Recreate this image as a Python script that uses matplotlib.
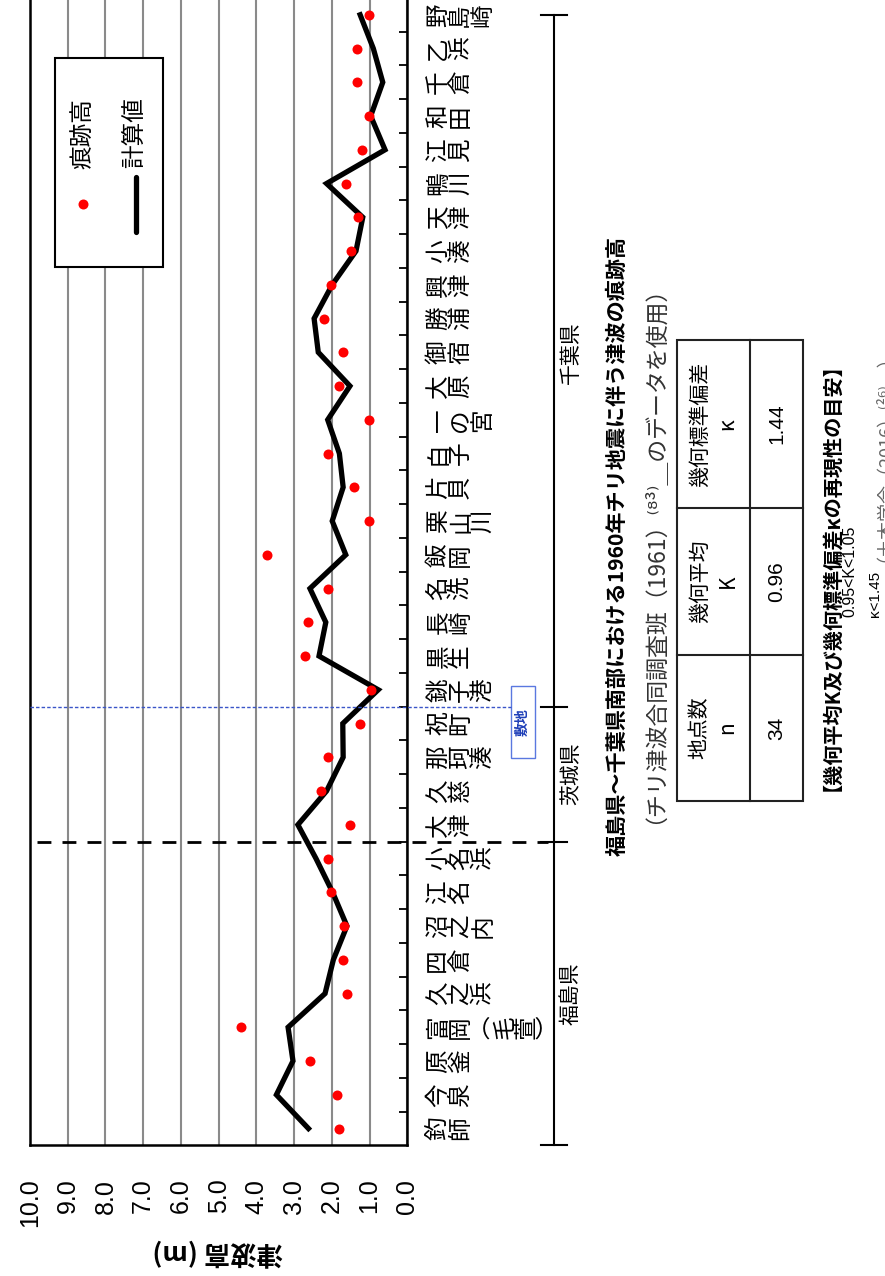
import numpy as np
import matplotlib
matplotlib.use("Agg")
import matplotlib.pyplot as plt
from matplotlib import transforms
from matplotlib.patches import Rectangle
from matplotlib.lines import Line2D

CJK = ['Noto Sans CJK JP', 'DejaVu Sans']
NUM = ['Liberation Sans', 'Noto Sans CJK JP', 'DejaVu Sans']
plt.rcParams['font.family'] = CJK

# Survey points, south-bound along the coast
stations = ["釣師", "今泉", "原釜", "富岡︵毛萱︶", "久之浜", "四倉", "沼之内", "江名", "小名浜",
            "大津", "久慈", "那珂湊", "祝町",
            "銚子港", "黒生", "長崎", "名洗", "飯岡", "栗山川", "片貝", "白子", "一の宮",
            "大原", "御宿", "勝浦", "興津", "小湊", "天津", "鴨川", "江見", "和田", "千倉",
            "乙浜", "野島崎"]
# Observed trace heights (m)
trace_height = [1.80, 1.85, 2.57, 4.41, 1.60, 1.71, 1.69, 2.02, 2.10,
                1.52, 2.30, 2.11, 1.25,
                0.96, 2.71, 2.62, 2.11, 3.71, 1.01, 1.42, 2.11, 1.01,
                1.80, 1.71, 2.22, 2.01, 1.50, 1.30, 1.63, 1.21, 1.01, 1.32,
                1.32, 1.01]
# Simulated tsunami heights (m)
calc_height = [2.62, 3.47, 3.03, 3.16, 2.18, 1.96, 1.60, 1.98, 2.42,
               2.90, 2.14, 1.70, 1.71,
               0.77, 2.34, 2.16, 2.58, 1.63, 1.99, 1.70, 1.80, 2.11,
               1.52, 2.36, 2.47, 1.99, 1.36, 1.18, 2.14, 0.59, 0.97, 0.65,
               0.90, 1.25]
prefectures = ["福島県", "茨城県", "千葉県"]
pref_counts = [9, 4, 21]
height_ticks = np.arange(0, 11)
table_headers = ["地点数\nn", "幾何平均\nK", "幾何標準偏差\nκ"]
table_values = ["34", "0.96", "1.44"]

W, H = 885, 1276
fig = plt.figure(figsize=(W / 100, H / 100), dpi=100)

# main plot: height runs right-to-left, stations bottom-to-top
ax_l, ax_r, ax_b, ax_t = 30, 407.3, 1145.4, -2.1
ax = fig.add_axes([ax_l / W, 1 - ax_b / H, (ax_r - ax_l) / W, (ax_b - ax_t) / H])
n = len(stations)
pos = np.arange(n) + 0.5
ax.set_xlim(10, 0)
ax.set_ylim(0, n)
ax.set_xticks(height_ticks)
ax.set_xticklabels([f"{v:.1f}" for v in height_ticks], rotation=90,
                   fontsize=18, family=NUM)
ax.tick_params(axis='x', length=0, pad=24)
ax.grid(axis='x', color='#8a8a8a', lw=1.5)
ax.yaxis.tick_right()
ax.set_yticks(np.arange(1, n))
ax.set_yticklabels([])
ax.tick_params(axis='y', direction='in', length=6, width=1.3, colors='black')
for s in ax.spines.values():
    s.set_linewidth(1.8)
    s.set_color('black')

ax.plot(calc_height, pos, color='black', lw=3.8, solid_joinstyle='miter', zorder=3)
ax.plot(trace_height, pos, 'o', color='#ff0000', ms=7.2, mec='none', zorder=4)

# overlay in pixel coordinates for annotations
ov = fig.add_axes([0, 0, 1, 1], facecolor='none')
ov.set_xlim(0, W)
ov.set_ylim(H, 0)
ov.axis('off')
blend = transforms.blended_transform_factory(ov.transData, ax.transData)

# station names, written vertically then turned with the page
for p, name in zip(pos, stations):
    ov.text(427, p, "\n".join(name), transform=blend, rotation=90,
            ha='left', va='center', fontsize=17, linespacing=0.95,
            multialignment='center')

edges = np.concatenate([[0], np.cumsum(pref_counts)])
# prefecture separators
ov.add_line(Line2D([37, 548], [edges[1], edges[1]], transform=blend, color='black',
                   lw=2, ls=(0, (5, 4))))
ov.add_line(Line2D([30, 511], [edges[2], edges[2]], transform=blend, color='#3a55c8',
                   lw=1.0, ls=(0, (2.5, 1.5))))
ov.add_patch(Rectangle((511, 686), 24, 72, fill=True, fc='white', ec='#5a78e0', lw=1.0))
ov.text(523, 722, "敷地", rotation=90, ha='center', va='center', fontsize=10,
        color='#1f3fb8', fontweight='bold')

# prefecture bracket
top = n - 0.5
ov.add_line(Line2D([554, 554], [edges[0], top], transform=blend, color='black', lw=1.5))
for e in [edges[0], edges[1], edges[2], top]:
    ov.add_line(Line2D([541, 567], [e, e], transform=blend, color='black', lw=1.5))
for i, pref in enumerate(prefectures):
    mid = (edges[i] + edges[i + 1]) / 2
    ov.text(571, mid, pref, transform=blend, rotation=90, ha='center', va='center',
            fontsize=15)

# legend
ov.add_patch(Rectangle((55, 58), 108, 209, fill=True, fc='white', ec='black', lw=1.5,
                       zorder=5))
ov.plot([82.7], [204], 'o', color='#ff0000', ms=7.2, mec='none', zorder=6)
ov.plot([135.7, 135.7], [177, 232], color='black', lw=3.8, solid_capstyle='round',
        zorder=6)
ov.text(83, 134, "痕跡高", rotation=90, ha='center', va='center', fontsize=17, zorder=6)
ov.text(136, 133, "計算値", rotation=90, ha='center', va='center', fontsize=17, zorder=6)

# axis title
ov.text(218, 1251, "津波高 (m)", rotation=180, ha='center', va='center', fontsize=19,
        fontweight='bold')

# caption
ov.text(617, 546, "福島県～千葉県南部における1960年チリ地震に伴う津波の痕跡高",
        rotation=90, ha='center', va='center', fontsize=15.2, fontweight='bold')
ov.text(643, 543, "（チリ津波合同調査班（1961）⁽⁸³⁾＿のデータを使用）",
        rotation=90, ha='center', va='center', fontsize=16.5, color='#333333')

# statistics table
tx0, tx1, tx2 = 677, 750, 803
row_edges = [801, 655, 508, 340]
ov.add_patch(Rectangle((tx0, row_edges[-1]), tx2 - tx0, row_edges[0] - row_edges[-1],
                       fill=False, ec='#222222', lw=1.5))
ov.add_line(Line2D([tx1, tx1], [row_edges[-1], row_edges[0]], color='#222222', lw=1.5))
for y in row_edges[1:-1]:
    ov.add_line(Line2D([tx0, tx2], [y, y], color='#222222', lw=1.5))
for i, (hdr, val) in enumerate(zip(table_headers, table_values)):
    yc = (row_edges[i] + row_edges[i + 1]) / 2
    ov.text((tx0 + tx1) / 2, yc, hdr, rotation=90, ha='center', va='center',
            fontsize=15, linespacing=1.35, multialignment='center')
    ov.text((tx1 + tx2) / 2, yc, val, rotation=90, ha='center', va='center',
            fontsize=15, family=NUM)

# reproducibility criteria
ov.text(821, 567, "【幾何平均K及び幾何標準偏差κの再現性の目安】", rotation=90,
        rotation_mode='anchor', ha='center', va='center', fontsize=14.5,
        fontweight='bold')
ov.text(850, 617, "0.95<K<1.05", rotation=90, rotation_mode='anchor',
        ha='left', va='center', fontsize=11.5, family=NUM)
ov.text(875, 617, "κ<1.45", rotation=90, rotation_mode='anchor',
        ha='left', va='center', fontsize=11, family=NUM)
ov.text(875, 562, "（土木学会（2016）⁽²⁶⁾＿）", rotation=90, rotation_mode='anchor',
        ha='left', va='center', fontsize=13, color='#666666')

fig.savefig("out.png", dpi=100, facecolor='white')
